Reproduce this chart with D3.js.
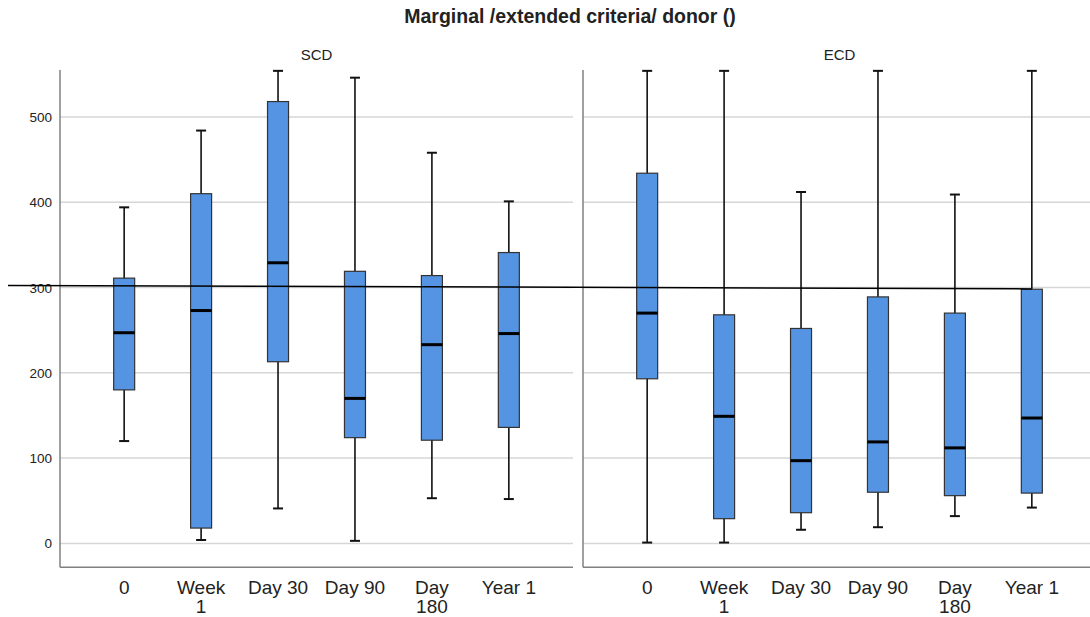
<!DOCTYPE html>
<html>
<head>
<meta charset="utf-8">
<script src="https://cdn.jsdelivr.net/npm/d3@7"></script>
<style>
  body { margin: 0; background: #fff; }
  svg text { font-family: "Liberation Sans", Arial, sans-serif; fill: #222; }
</style>
</head>
<body>
<div id="chart"></div>
<script>
// categories along x, same in both panels
var categories = ["0", "Week 1", "Day 30", "Day 90", "Day 180", "Year 1"];
var catLines = [["0"], ["Week", "1"], ["Day 30"], ["Day 90"], ["Day", "180"], ["Year 1"]];
var panels = ["SCD", "ECD"];
var yTicks = [0, 100, 200, 300, 400, 500];

// [min, q1, median, q3, max] per category
var scdStats = [
  [120, 180, 247, 311, 394],
  [4, 18, 273, 410, 484],
  [41, 213, 329, 518, 554],
  [3, 124, 170, 319, 546],
  [53, 121, 233, 314, 458],
  [52, 136, 246, 341, 401]
];
var ecdStats = [
  [1, 193, 270, 434, 554],
  [1, 29, 149, 268, 554],
  [16, 36, 97, 252, 412],
  [19, 60, 119, 289, 554],
  [32, 56, 112, 270, 409],
  [42, 59, 147, 298, 554]
];
// hand drawn reference line: value at left end, value at right end
var refLine = [302.5, 298.4];

var W = 1090, H = 617;
var svg = d3.select("#chart").append("svg").attr("width", W).attr("height", H);

var y = d3.scaleLinear().domain([-28, 555]).range([567.3, 70]);

var panelW = 513;
var panelX = [60, 583];
var xs = panelX.map(function (x0) {
  return d3.scalePoint().domain(categories).range([x0, x0 + panelW]).padding(0.834);
});
var boxW = 21, capW = 10;
var blue = "#5594e2";

// title
svg.append("text").attr("x", 570).attr("y", 23).attr("text-anchor", "middle")
  .style("font-size", "19.5px").style("font-weight", "bold")
  .text("Marginal /extended criteria/ donor ()");

var clip = svg.append("defs").append("clipPath").attr("id", "cl");
clip.append("rect").attr("x", 0).attr("y", 0).attr("width", W).attr("height", H);

[scdStats, ecdStats].forEach(function (stats, p) {
  var x = xs[p];
  var x0 = panelX[p], x1 = Math.min(x0 + panelW, W);
  var g = svg.append("g");

  // gridlines
  g.selectAll(".grid").data(yTicks).enter().append("line")
    .attr("x1", x0).attr("x2", x1)
    .attr("y1", function (d) { return y(d); }).attr("y2", function (d) { return y(d); })
    .attr("stroke", "#d6d6d6").attr("stroke-width", 1.5);

  // axes frame
  g.append("line").attr("x1", x0).attr("x2", x0).attr("y1", y.range()[1]).attr("y2", y.range()[0])
    .attr("stroke", "#808080").attr("stroke-width", 1.5);
  g.append("line").attr("x1", x0).attr("x2", x1).attr("y1", y.range()[0]).attr("y2", y.range()[0])
    .attr("stroke", "#808080").attr("stroke-width", 1.5);

  if (p === 0) {
    g.selectAll(".yl").data(yTicks).enter().append("text")
      .attr("x", x0 - 8).attr("y", function (d) { return y(d) + 5; })
      .attr("text-anchor", "end").style("font-size", "13.5px")
      .text(function (d) { return d; });
  }

  // panel label
  var mid = (x(categories[0]) + x(categories[categories.length - 1])) / 2;
  g.append("text").attr("x", mid).attr("y", 60).attr("text-anchor", "middle")
    .style("font-size", "15px").text(panels[p]);

  // category labels
  var lab = g.selectAll(".xl").data(categories).enter().append("text")
    .attr("text-anchor", "middle").style("font-size", "19px")
    .attr("transform", function (d) { return "translate(" + x(d) + ",594)"; });
  lab.each(function (d, i) {
    var t = d3.select(this);
    catLines[i].forEach(function (s, k) {
      t.append("tspan").attr("x", 0).attr("dy", k === 0 ? 0 : 19).text(s);
    });
  });

  var box = g.selectAll(".box").data(stats).enter().append("g")
    .attr("transform", function (d, i) { return "translate(" + x(categories[i]) + ",0)"; });

  box.append("line").attr("x1", 0).attr("x2", 0)
    .attr("y1", function (d) { return y(d[0]); }).attr("y2", function (d) { return y(d[4]); })
    .attr("stroke", "#111").attr("stroke-width", 1.6);
  [0, 4].forEach(function (k) {
    box.append("line").attr("x1", -capW / 2).attr("x2", capW / 2)
      .attr("y1", function (d) { return y(d[k]); }).attr("y2", function (d) { return y(d[k]); })
      .attr("stroke", "#111").attr("stroke-width", 2);
  });
  box.append("rect").attr("x", -boxW / 2).attr("width", boxW)
    .attr("y", function (d) { return y(d[3]); })
    .attr("height", function (d) { return y(d[1]) - y(d[3]); })
    .attr("fill", blue).attr("stroke", "#333").attr("stroke-width", 1.2);
  box.append("line").attr("x1", -boxW / 2).attr("x2", boxW / 2)
    .attr("y1", function (d) { return y(d[2]); }).attr("y2", function (d) { return y(d[2]); })
    .attr("stroke", "#000").attr("stroke-width", 3);
});

// reference line across both panels
svg.append("line")
  .attr("x1", panelX[0] - 52).attr("y1", y(refLine[0]))
  .attr("x2", xs[1](categories[categories.length - 1])).attr("y2", y(refLine[1]))
  .attr("stroke", "#000").attr("stroke-width", 1.5);
</script>
</body>
</html>
